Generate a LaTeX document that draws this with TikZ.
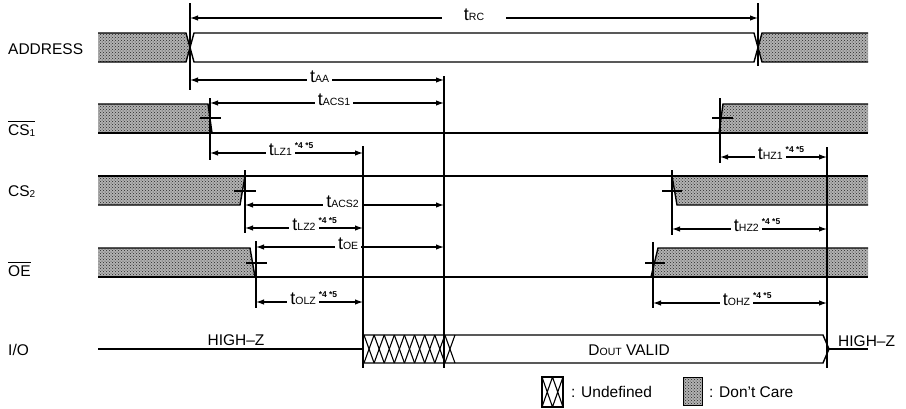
\documentclass[tikz,border=0pt]{standalone}
\usepackage{fontspec}
\setmainfont{Liberation Sans}
\usetikzlibrary{arrows.meta,patterns}
\newcommand\tsb[1]{{\fontsize{18}{18}\selectfont t}{\fontsize{10.5}{10.5}\selectfont #1}}
\newcommand\fnote{\rlap{\kern3pt\raisebox{7pt}{\fontsize{8.5}{8.5}\selectfont\bfseries *4 *5}}}
\newcommand\ovl[1]{\vbox{\hrule height 1pt\kern 2pt\hbox{#1}}}
\newcommand\subx[1]{\raisebox{-1.5pt}{\fontsize{10}{10}\selectfont #1}}
\begin{document}
\begin{tikzpicture}[x=1pt,y=-1pt,
  sig/.style={line width=1.4pt, line join=miter},
  thin/.style={line width=1.1pt},
  ref/.style={line width=1.3pt},
  dc/.style={preaction={fill=black!30}, pattern=crosshatch dots, pattern color=black!85},
  dim/.style={{Latex[length=8pt,width=5.5pt]}-{Latex[length=8pt,width=5.5pt]}, line width=1.2pt},
  lbl/.style={font=\fontsize{15.5}{16}\selectfont, inner sep=0pt},
  tlab/.style={fill=white, inner xsep=3pt, inner ysep=1pt, anchor=base, yshift=-2pt},
]
\useasboundingbox (0,0) rectangle (906,408);

% ---------- signal names ----------
\node[lbl, anchor=base west] (nADDR) at (8,54) {ADDRESS};
\node[lbl, anchor=base west] (nCS1) at (8,135) {\ovl{CS\subx{1}}};
\node[lbl, anchor=base west] (nCS2) at (8,196) {CS\subx{2}};
\node[lbl, anchor=base west] (nOE) at (8,276) {\ovl{OE}};
\node[lbl, anchor=base west] (nIO) at (8,355) {I/O};

% ---------- ADDRESS ----------
\fill[dc] (98,33) -- (186,33) -- (190,47.5) -- (186,62) -- (98,62) -- cycle;
\fill[dc] (868,33) -- (762,33) -- (758,47.5) -- (762,62) -- (868,62) -- cycle;
\draw[sig] (98,33) -- (186,33) -- (190,47.5) -- (194,62) -- (754,62) -- (758,47.5) -- (762,33) -- (868,33);
\draw[sig] (98,62) -- (186,62) -- (190,47.5) -- (194,33) -- (754,33) -- (758,47.5) -- (762,62) -- (868,62);

% ---------- CS1 ----------
\fill[dc] (98,104) -- (208,104) -- (212,133) -- (98,133) -- cycle;
\fill[dc] (868,104) -- (723,104) -- (719,133) -- (868,133) -- cycle;
\draw[sig] (98,104) -- (208,104) -- (212,133);
\draw[sig] (719,133) -- (723,104) -- (868,104);
\draw[sig] (98,133) -- (868,133);
\draw[sig] (200,118) -- (221,118);
\draw[sig] (712,118) -- (733,118);

% ---------- CS2 ----------
\fill[dc] (98,176) -- (245,176) -- (240,205) -- (98,205) -- cycle;
\fill[dc] (868,176) -- (672,176) -- (677,205) -- (868,205) -- cycle;
\draw[sig] (98,176) -- (868,176);
\draw[sig] (98,205) -- (240,205) -- (245,176);
\draw[sig] (672,176) -- (677,205) -- (868,205);
\draw[sig] (234,191) -- (256,191);
\draw[sig] (662,191) -- (682,191);

% ---------- OE ----------
\fill[dc] (98,248) -- (250,248) -- (255,277) -- (98,277) -- cycle;
\fill[dc] (868,248) -- (658,248) -- (651,277) -- (868,277) -- cycle;
\draw[sig] (98,248) -- (250,248) -- (255,277);
\draw[sig] (651,277) -- (658,248) -- (868,248);
\draw[sig] (98,277) -- (868,277);
\draw[sig] (246,263) -- (267,263);
\draw[sig] (645,263) -- (665,263);

% ---------- I/O ----------
\draw[sig] (98,349) -- (363,349);
\foreach \i in {0,...,8} {
  \draw[thin] ({364+\i*10.11},335) -- ({364+(\i+1)*10.11},363);
  \draw[thin] ({364+\i*10.11},363) -- ({364+(\i+1)*10.11},335);
}
\draw[sig] (364,335) -- (823,335) -- (829,349) -- (823,363) -- (364,363);
\draw[sig] (829,349) -- (868,349);
\node[lbl, anchor=base] (hz1) at (236,345) {HIGH–Z};
\node[lbl, anchor=base west] (hz2) at (838,346) {HIGH–Z};
\node[lbl, anchor=base east] (dout) at (670,355) {D{\fontsize{10.5}{10.5}\selectfont OUT} VALID};

% ---------- reference lines ----------
\draw[ref] (190,3) -- (190,90);
\draw[ref] (758,3) -- (758,66);
\draw[ref] (444,76) -- (444,368);
\draw[ref] (210,98) -- (210,160);
\draw[ref] (363,146) -- (363,368);
\draw[ref] (245,170) -- (245,233);
\draw[ref] (256,241) -- (256,308);
\draw[ref] (720,98) -- (720,163);
\draw[ref] (672,170) -- (672,235);
\draw[ref] (653,242) -- (653,308);
\draw[ref] (827,147) -- (827,368);

% ---------- timing dimensions ----------
\coordinate (rcA) at (190,18);  \coordinate (rcB) at (758,18);
\coordinate (aaA) at (190,80);  \coordinate (aaB) at (444,80);
\coordinate (c1A) at (210,103); \coordinate (c1B) at (444,103);
\coordinate (l1A) at (210,153); \coordinate (l1B) at (363,153);
\coordinate (c2A) at (245,205); \coordinate (c2B) at (444,205);
\coordinate (l2A) at (245,228); \coordinate (l2B) at (363,228);
\coordinate (oeA) at (256,247); \coordinate (oeB) at (444,247);
\coordinate (olA) at (256,302); \coordinate (olB) at (363,302);
\coordinate (h1A) at (720,157); \coordinate (h1B) at (827,157);
\coordinate (h2A) at (672,229); \coordinate (h2B) at (827,229);
\coordinate (ohA) at (653,303); \coordinate (ohB) at (827,303);

\draw[dim] (rcA) -- node[tlab, inner xsep=22pt] (tRC) {\tsb{RC}} (rcB);
\draw[dim] (aaA) -- node[tlab, pos=0.51] (tAA) {\tsb{AA}} (aaB);
\draw[dim] (c1A) -- node[tlab, pos=0.53] (tACS1) {\tsb{ACS1}} (c1B);
\draw[dim] (l1A) -- node[tlab, pos=0.46] (tLZ1) {\tsb{LZ1}\fnote} (l1B);
\draw[dim] (c2A) -- node[tlab, pos=0.49] (tACS2) {\tsb{ACS2}} (c2B);
\draw[dim] (l2A) -- node[tlab, pos=0.5] (tLZ2) {\tsb{LZ2}\fnote} (l2B);
\draw[dim] (oeA) -- node[tlab, pos=0.49] (tOE) {\tsb{OE}} (oeB);
\draw[dim] (olA) -- node[tlab, pos=0.44] (tOLZ) {\tsb{OLZ}\fnote} (olB);
\draw[dim] (h1A) -- node[tlab, pos=0.47] (tHZ1) {\tsb{HZ1}\fnote} (h1B);
\draw[dim] (h2A) -- node[tlab, pos=0.48] (tHZ2) {\tsb{HZ2}\fnote} (h2B);
\draw[dim] (ohA) -- node[tlab, pos=0.48] (tOHZ) {\tsb{OHZ}\fnote} (ohB);

% ---------- legend ----------
\draw[thin] (542,377) rectangle (563,407);
\draw[thin] (542,377) -- (552.5,407) (552.5,377) -- (542,407)
            (552.5,377) -- (563,407) (563,377) -- (552.5,407);
\node[lbl, anchor=base west] (lgU) at (571,397) {: Undefined};
\draw[dc, line width=0.6pt] (683,377) rectangle (702,405);
\node[lbl, anchor=base west] (lgD) at (709,397) {: Don't Care};
\end{tikzpicture}
\end{document}
